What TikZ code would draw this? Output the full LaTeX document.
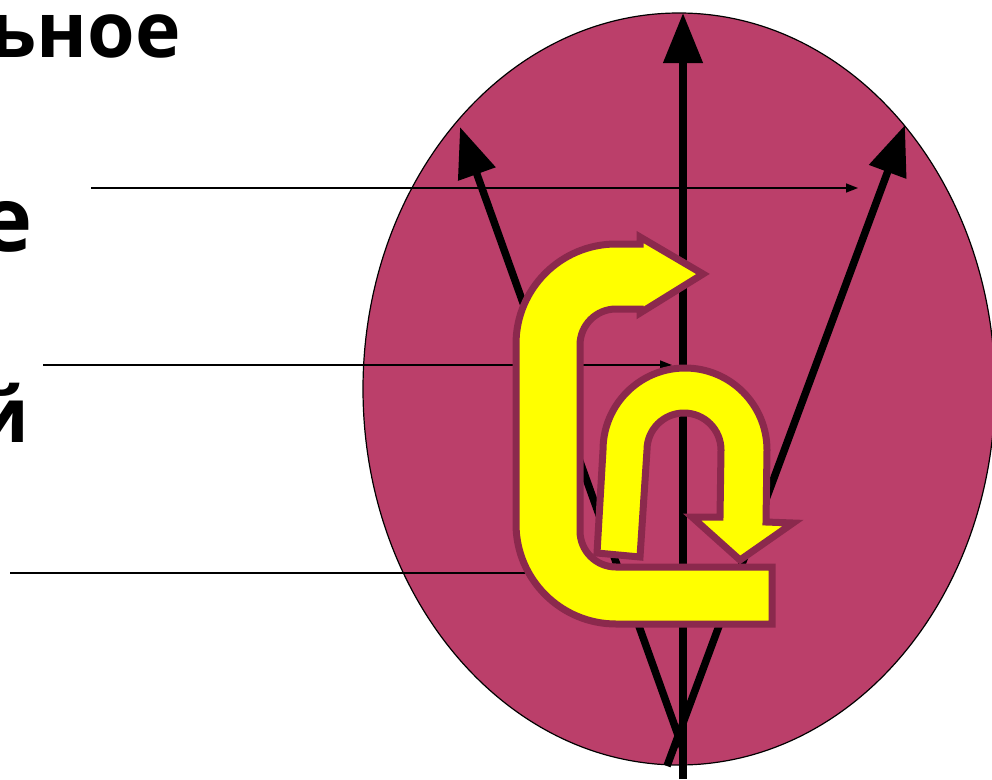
\documentclass[tikz,border=0pt]{standalone}
\usepackage{fontspec}
\setmainfont{Open Sans}
\usetikzlibrary{arrows.meta}
\definecolor{ellfill}{RGB}{187,63,106}
\definecolor{uout}{RGB}{139,41,77}
\definecolor{ufill}{RGB}{255,255,0}
\begin{document}
\begin{tikzpicture}[x=1pt,y=-1pt,
  bigtext/.style={anchor=base east, inner sep=0pt, font=\fontsize{#1}{#1}\selectfont\bfseries},
  thinarrow/.style={line width=1.6pt, -{Triangle[length=12pt,width=9pt]}},
  thinline/.style={line width=1.6pt},
  blackarrow/.style={line width=7.5pt, -{Triangle[length=50pt,width=38pt]}},
  uarrow/.style={fill=ufill, draw=uout, line width=7pt, line join=miter}]
\useasboundingbox (0,0) rectangle (992,779);
% ellipse
\draw[fill=ellfill, line width=1.2pt] (679,389) ellipse [x radius=316, y radius=376];
% coordinates
\coordinate (l1s) at (91,188); \coordinate (l1e) at (858,188);
\coordinate (l2s) at (43,365); \coordinate (l2e) at (672,365);
\coordinate (l3s) at (10,573); \coordinate (l3e) at (540,573);
\coordinate (vbot) at (683,779); \coordinate (vtop) at (683,13);
\coordinate (lbot) at (683,749); \coordinate (ltip) at (460,127);
\coordinate (rbot) at (667,766); \coordinate (rtip) at (905,125);
% thin lines
\draw[thinarrow] (l1s) -- (l1e);
\draw[thinarrow] (l2s) -- (l2e);
\draw[thinline] (l3s) -- (l3e);
% black arrows
\draw[blackarrow] (vbot) -- (vtop);
\draw[blackarrow] (lbot) -- (ltip);
\draw[blackarrow] (rbot) -- (rtip);
% yellow C-arrow
\path[uarrow] (772,624) -- (616,624) arc[start angle=90, end angle=180, radius=100]
  -- (516,344) arc[start angle=180, end angle=270, radius=100]
  -- (640,244) -- (640,237) -- (703,274) -- (640,313) -- (640,309) -- (616,309)
  arc[start angle=270, end angle=180, radius=36]
  -- (580,531) arc[start angle=180, end angle=90, radius=36]
  -- (772,567) -- cycle;
% yellow n-arrow
\path[uarrow] (597,553) -- (603,450) arc[start angle=180, end angle=360, radius=82]
  -- (766,522) -- (793,523) -- (740,560) -- (692,517) -- (720,517) -- (721,450)
  arc[start angle=0, end angle=-180, radius=37]
  -- (640,557) -- cycle;
% texts
\node[bigtext=77] (t1) at (181,57) {ьное};
\node[bigtext=90] (t2) at (33,251) {е};
\node[bigtext=76] (t3) at (29,442) {й};
\end{tikzpicture}
\end{document}
